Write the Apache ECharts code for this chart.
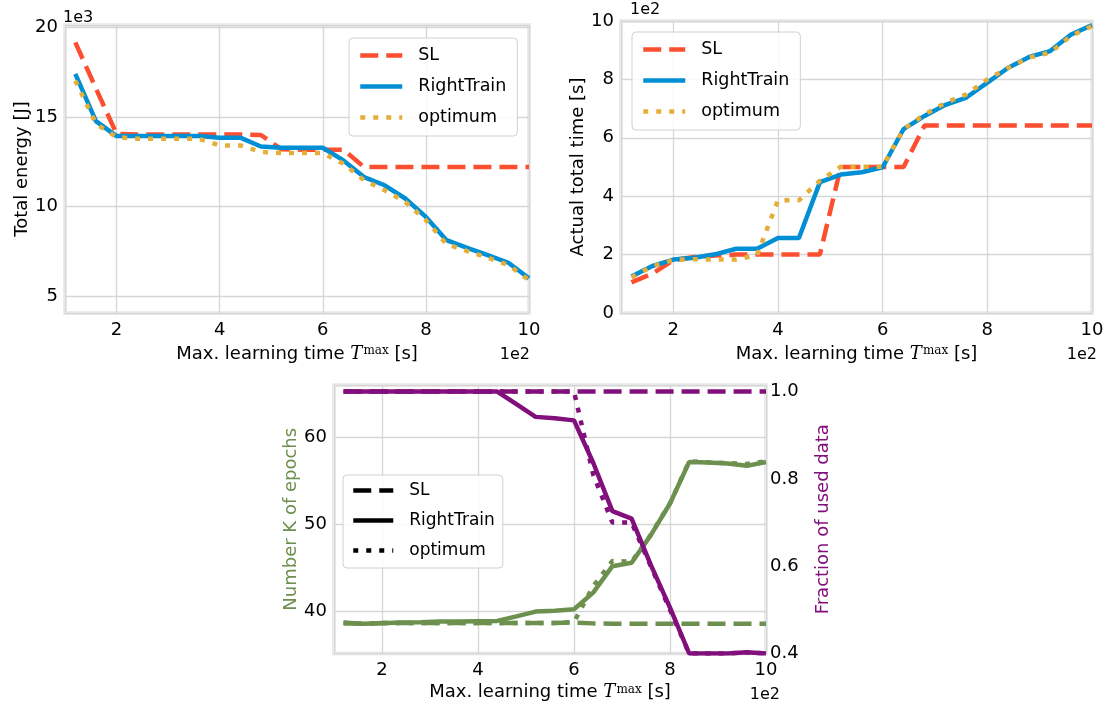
<!DOCTYPE html>
<html>
<head>
<meta charset="utf-8">
<script src="https://cdn.jsdelivr.net/npm/echarts@6/dist/echarts.min.js"></script>
<style>
  html, body { margin: 0; padding: 0; background: #fff; }
  #chart { width: 1113px; height: 708px; }
</style>
</head>
<body>
<div id="chart"></div>
<script>
// x positions: max. learning time, in units of 1e2 s
const xs = [1.2, 1.6, 2.0, 2.4, 2.8, 3.2, 3.6, 4.0, 4.4, 4.8, 5.2, 5.6, 6.0, 6.4, 6.8, 7.2, 7.6, 8.0, 8.4, 8.8, 9.2, 9.6, 10.0];

// total energy (1e3 J)
const energySL = [19.18, 16.6, 14.07, 14.03, 14.03, 14.03, 14.03, 14.03, 14.03, 14.0, 13.2, 13.18, 13.18, 13.18, 12.21, 12.21, 12.21, 12.21, 12.21, 12.21, 12.21, 12.21, 12.21];
const energyRT = [17.42, 14.78, 13.94, 13.94, 13.94, 13.94, 13.94, 13.85, 13.85, 13.36, 13.29, 13.29, 13.29, 12.58, 11.65, 11.19, 10.45, 9.42, 8.12, 7.69, 7.29, 6.86, 5.99];
const energyOpt = [17.04, 14.63, 13.88, 13.79, 13.79, 13.79, 13.79, 13.42, 13.42, 13.05, 12.99, 12.99, 12.99, 12.4, 11.47, 10.91, 10.26, 9.24, 7.9, 7.51, 7.14, 6.73, 5.89];

// actual total time (1e2 s)
const timeSL = [1.05, 1.35, 1.81, 1.92, 1.97, 2.0, 2.0, 2.0, 2.0, 2.0, 5.0, 5.0, 5.0, 5.0, 6.42, 6.42, 6.42, 6.42, 6.42, 6.42, 6.42, 6.42, 6.42];
const timeRT = [1.25, 1.61, 1.83, 1.89, 2.01, 2.2, 2.2, 2.57, 2.57, 4.48, 4.74, 4.82, 4.99, 6.3, 6.75, 7.13, 7.38, 7.89, 8.4, 8.77, 8.97, 9.54, 9.86];
const timeOpt = [1.22, 1.6, 1.82, 1.84, 1.83, 1.83, 1.98, 3.86, 3.86, 4.53, 5.01, 5.01, 5.01, 6.3, 6.8, 7.2, 7.49, 8.0, 8.4, 8.75, 8.92, 9.49, 9.83];

// number K of epochs
const epochsSL = [38.75, 38.6, 38.7, 38.7, 38.7, 38.7, 38.7, 38.7, 38.7, 38.7, 38.7, 38.7, 38.75, 38.65, 38.6, 38.6, 38.6, 38.6, 38.6, 38.6, 38.6, 38.6, 38.6];
const epochsRT = [38.67, 38.6, 38.67, 38.75, 38.78, 38.86, 38.86, 38.9, 38.93, 39.45, 40.0, 40.1, 40.27, 42.17, 45.2, 45.6, 48.76, 52.38, 57.14, 57.07, 56.95, 56.69, 57.14];
const epochsOpt = [38.7, 38.6, 38.7, 38.7, 38.7, 38.7, 38.7, 38.7, 38.7, 38.7, 38.7, 38.7, 38.8, 42.9, 45.8, 45.7, 48.8, 52.4, 57.2, 57.1, 57.0, 56.9, 57.2];

// fraction of used data
const fracSL = [1, 1, 1, 1, 1, 1, 1, 1, 1, 1, 1, 1, 1, 1, 1, 1, 1, 1, 1, 1, 1, 1, 1];
const fracRT = [1, 1, 1, 1, 1, 1, 1, 1, 1, 0.971, 0.942, 0.939, 0.934, 0.837, 0.726, 0.709, 0.603, 0.505, 0.4, 0.4, 0.4, 0.403, 0.4];
const fracOpt = [1, 1, 1, 1, 1, 1, 1, 1, 1, 1, 1, 1, 1, 0.81, 0.70, 0.70, 0.6, 0.5, 0.4, 0.4, 0.4, 0.403, 0.4];

const legendNames = ['SL', 'RightTrain', 'optimum'];

const FONT = 'DejaVu Sans';
const RED = '#fc4f30', BLUE = '#008fd5', YELLOW = '#e5ae38', GREEN = '#6d904f', PURPLE = '#810f7c';
const DASH = [18, 8], DOT = [5, 8];
const LW = 4.5;

const chart = echarts.init(document.getElementById('chart'));

function line(name, ys, color, type, xi, yi) {
  return {
    name: name,
    type: 'line',
    xAxisIndex: xi,
    yAxisIndex: yi,
    symbol: 'none',
    data: xs.map((x, i) => [x, ys[i]]),
    lineStyle: { color: color, width: LW, type: type, cap: 'butt' },
    itemStyle: { color: color }
  };
}

const xName = 'Max. learning time {t|T}{s|max} [s]';
const nameRich = {
  t: { fontFamily: 'DejaVu Serif', fontStyle: 'italic', fontSize: 18, color: '#000' },
  s: { fontFamily: 'DejaVu Serif', fontSize: 12, color: '#000', verticalAlign: 'top', lineHeight: 12, padding: [0, 0, 9, 1] }
};

function gridBox(left, top, width, height) {
  return { left, top, width, height, show: true, backgroundColor: '#fff', borderColor: '#ececec', borderWidth: 4 };
}

function xAx(gi, gap) {
  return {
    gridIndex: gi, type: 'value', min: 1, max: 10, splitNumber: 5,
    name: xName, nameLocation: 'middle', nameGap: gap,
    nameTextStyle: { fontSize: 18, color: '#000', fontFamily: FONT, rich: nameRich },
    axisLine: { show: false }, axisTick: { show: false },
    axisLabel: { fontSize: 18, color: '#000', margin: 8, showMinLabel: false, fontFamily: FONT },
    splitLine: { show: true, lineStyle: { color: '#d6d6d6', width: 1.3 } }
  };
}

function yAx(gi, min, max, opts) {
  return Object.assign({
    gridIndex: gi, type: 'value', min: min, max: max, splitNumber: 3,
    nameLocation: 'middle', nameTextStyle: { fontSize: 18, color: '#000', fontFamily: FONT },
    axisLine: { show: false }, axisTick: { show: false },
    axisLabel: { fontSize: 18, color: '#000', margin: 7, showMinLabel: false, showMaxLabel: false, fontFamily: FONT },
    splitLine: { show: true, lineStyle: { color: '#d6d6d6', width: 1.3 } }
  }, opts);
}

function legendBox(left, top, fs, extra) {
  return Object.assign({
    orient: 'vertical', left: left, top: top,
    data: legendNames,
    itemWidth: 42, itemHeight: 14, itemGap: 10,
    padding: [7, 11, 8, 9],
    backgroundColor: 'rgba(255,255,255,0.85)',
    borderColor: '#d0d0d0', borderWidth: 1, borderRadius: 4,
    formatter: '{a|{name}}',
    textStyle: { fontSize: fs, color: '#000', fontFamily: FONT, lineHeight: 21,
      rich: { a: { fontSize: fs, color: '#000', fontFamily: FONT, lineHeight: 21, padding: [0, 0, 0, 11] } } },
    lineStyle: { width: LW },
    itemStyle: { opacity: 0, borderWidth: 0 },
    selectedMode: false
  }, extra);
}

const option = {
  animation: false,
  backgroundColor: '#fff',
  textStyle: { fontFamily: FONT },
  grid: [
    gridBox(65, 25, 464, 288),
    gridBox(621, 21, 471, 292),
    gridBox(334, 385, 432, 268.5)
  ],
  xAxis: [xAx(0, 32), xAx(1, 32), xAx(2, 30)],
  yAxis: [
    yAx(0, 4.05, 20.15, { name: 'Total energy [J]', nameGap: 33 }),
    yAx(1, 0, 10, { interval: 2, name: 'Actual total time [s]', nameGap: 33,
      axisLabel: { fontSize: 18, color: '#000', margin: 7, fontFamily: FONT } }),
    yAx(2, 35.2, 65.95, { name: 'Number K of epochs', nameGap: 34,
      nameTextStyle: { fontSize: 18, color: GREEN, fontFamily: FONT } }),
    yAx(2, 0.4, 1.015, { position: 'right', name: 'Fraction of used data', nameGap: 48,
      nameTextStyle: { fontSize: 18, color: PURPLE, fontFamily: FONT },
      axisLabel: { fontSize: 18, color: '#000', margin: 4, showMaxLabel: false, fontFamily: FONT,
        formatter: v => v.toFixed(1) },
      splitLine: { show: false } })
  ],
  legend: [
    legendBox(349, 38, 17.5),
    legendBox(632, 32, 17.5),
    legendBox(343, 475, 17, {
      itemWidth: 40, itemGap: 9, padding: [5, 8, 7, 8],
      lineStyle: { width: LW, color: '#000' }
    })
  ],
  series: [
    line('SL', energySL, RED, DASH, 0, 0),
    line('RightTrain', energyRT, BLUE, 'solid', 0, 0),
    line('optimum', energyOpt, YELLOW, DOT, 0, 0),
    line('SL', timeSL, RED, DASH, 1, 1),
    line('RightTrain', timeRT, BLUE, 'solid', 1, 1),
    line('optimum', timeOpt, YELLOW, DOT, 1, 1),
    line('SL', epochsSL, GREEN, DASH, 2, 2),
    line('RightTrain', epochsRT, GREEN, 'solid', 2, 2),
    line('optimum', epochsOpt, GREEN, DOT, 2, 2),
    line('SL', fracSL, PURPLE, DASH, 2, 3),
    line('RightTrain', fracRT, PURPLE, 'solid', 2, 3),
    line('optimum', fracOpt, PURPLE, DOT, 2, 3)
  ],
  graphic: [
    { type: 'text', x: 63, y: 18, style: { text: '1e3', fontSize: 16, fontFamily: FONT, fill: '#000', align: 'left', verticalAlign: 'middle' } },
    { type: 'text', x: 530, y: 355, style: { text: '1e2', fontSize: 16, fontFamily: FONT, fill: '#000', align: 'right', verticalAlign: 'middle' } },
    { type: 'text', x: 630, y: 10, style: { text: '1e2', fontSize: 16, fontFamily: FONT, fill: '#000', align: 'left', verticalAlign: 'middle' } },
    { type: 'text', x: 1097, y: 355, style: { text: '1e2', fontSize: 16, fontFamily: FONT, fill: '#000', align: 'right', verticalAlign: 'middle' } },
    { type: 'text', x: 780, y: 695, style: { text: '1e2', fontSize: 16, fontFamily: FONT, fill: '#000', align: 'right', verticalAlign: 'middle' } }
  ]
};

chart.setOption(option);
</script>
</body>
</html>
